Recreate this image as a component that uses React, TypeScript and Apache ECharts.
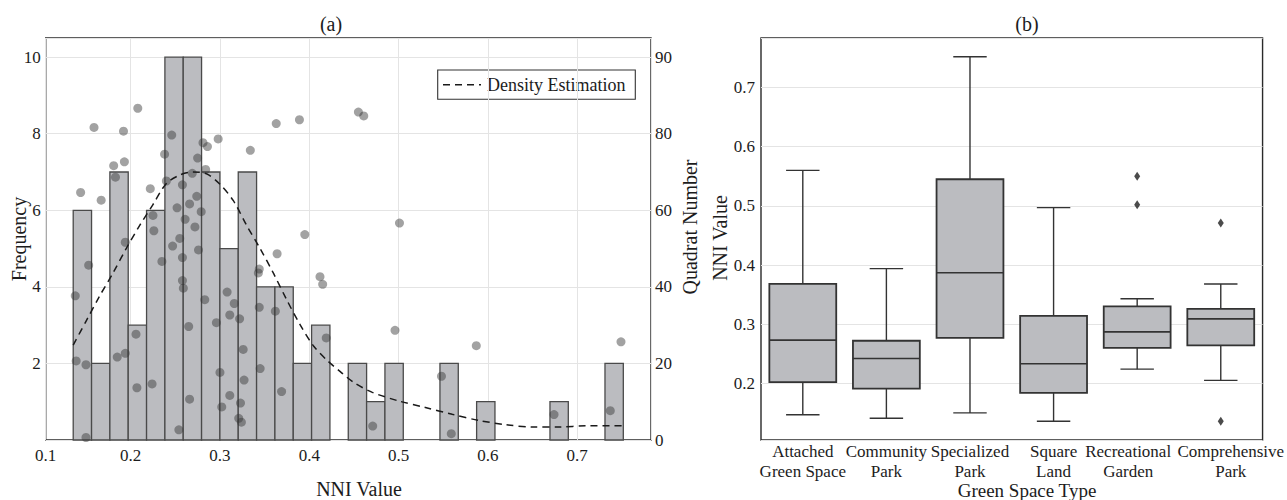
import React, { useEffect, useRef } from 'react';
import * as echarts from 'echarts';

// ---------- Panel (a): histogram of NNI values ----------
const histRange = [0.1357, 0.7516];
const histCounts = [6, 2, 7, 3, 6, 10, 10, 7, 5, 7, 4, 4, 2, 3, 0, 2, 1, 2, 0, 0, 2, 0, 1, 0, 0, 0, 1, 0, 0, 2];

// density estimation curve (frequency units)
const kdeX = [0.1357, 0.15, 0.165, 0.18, 0.195, 0.21, 0.225, 0.24, 0.255, 0.27, 0.285, 0.3, 0.315, 0.33, 0.345, 0.36, 0.375, 0.39, 0.405, 0.42, 0.435, 0.45, 0.47, 0.5, 0.53, 0.56, 0.59, 0.62, 0.65, 0.68, 0.71, 0.7516];
const kdeY = [2.48, 3.1, 3.75, 4.35, 5.0, 5.6, 6.15, 6.7, 6.92, 7.0, 6.95, 6.68, 6.25, 5.6, 5.0, 4.35, 3.65, 3.0, 2.45, 2.08, 1.78, 1.5, 1.25, 1.02, 0.85, 0.67, 0.51, 0.4, 0.34, 0.34, 0.37, 0.37];

// NNI value of each quadrat, indexed by quadrat number 0..86
const quadratNNI = [
  0.150, 0.559, 0.254, 0.471, 0.324, 0.321, 0.674, 0.737, 0.302, 0.323,
  0.266, 0.311, 0.369, 0.207, 0.224, 0.327, 0.548, 0.300, 0.345, 0.150,
  0.139, 0.185, 0.194, 0.326, 0.587, 0.749, 0.419, 0.206, 0.496, 0.265,
  0.296, 0.322, 0.311, 0.362, 0.344, 0.316, 0.283, 0.138, 0.308, 0.259,
  0.415, 0.258, 0.412, 0.343, 0.344, 0.153, 0.235, 0.258, 0.364, 0.276,
  0.247, 0.194, 0.255, 0.395, 0.226, 0.272, 0.501, 0.261, 0.225, 0.279,
  0.252, 0.266, 0.167, 0.274, 0.144, 0.222, 0.258, 0.240, 0.183, 0.269,
  0.284, 0.181, 0.193, 0.275, 0.238, 0.334, 0.286, 0.281, 0.298, 0.246,
  0.192, 0.159, 0.363, 0.389, 0.461, 0.455, 0.208
];

const freqRange = [0, 10.5];
const quadratTickLabels = ['0', '20', '40', '60', '80', '90'];

// ---------- Panel (b): box plot by green space type ----------
const boxCategories = [
  'Attached\nGreen Space',
  'Community\nPark',
  'Specialized\nPark',
  'Square\nLand',
  'Recreational\nGarden',
  'Comprehensive\nPark'
];
const boxLow = [0.147, 0.141, 0.150, 0.136, 0.224, 0.205];
const boxQ1 = [0.202, 0.191, 0.277, 0.184, 0.260, 0.264];
const boxMedian = [0.273, 0.242, 0.387, 0.233, 0.287, 0.309];
const boxQ3 = [0.368, 0.272, 0.545, 0.314, 0.330, 0.326];
const boxHigh = [0.560, 0.394, 0.752, 0.497, 0.343, 0.368];
const outlierCat = [4, 4, 5, 5];
const outlierVal = [0.550, 0.502, 0.471, 0.136];

const FONT = "'Liberation Serif', 'Times New Roman', Times, serif";
const TXT = '#1c1c1c';
const GRIDLINE = '#e4e4e4';
const FRAME = '#2a2a2a';
const BARFILL = '#bbbcc0';

export default function App() {
  const ref = useRef<HTMLDivElement>(null);

  useEffect(() => {
    const chart = echarts.init(ref.current as HTMLDivElement, null, { renderer: 'svg' });

    const binW = (histRange[1] - histRange[0]) / histCounts.length;
    const histData = histCounts.map((c, i) => [histRange[0] + i * binW, histRange[0] + (i + 1) * binW, c]);
    const kdeData = kdeX.map((x, i) => [x, kdeY[i]]);
    const scatterData = quadratNNI.map((v, i) => [v, i]);
    const boxData = boxCategories.map((_, i) => [i, boxLow[i], boxQ1[i], boxMedian[i], boxQ3[i], boxHigh[i]]);
    const outlierData = outlierCat.map((c, i) => [c, outlierVal[i]]);

    const tickLabel = {
      fontFamily: FONT,
      fontSize: 17,
      color: TXT
    };

    const option: any = {
      animation: false,
      backgroundColor: '#ffffff',
      textStyle: { fontFamily: FONT },
      grid: [
        { left: 45.7, top: 38, width: 605.3, height: 402, show: true, borderColor: FRAME, borderWidth: 1.4, backgroundColor: 'transparent' },
        { left: 761, top: 38, width: 503, height: 402, show: true, borderColor: FRAME, borderWidth: 1.4, backgroundColor: 'transparent' }
      ],
      xAxis: [
        {
          gridIndex: 0,
          type: 'value',
          min: 0.1049,
          max: 0.7826,
          minInterval: 0.1,
          maxInterval: 0.1,
          axisLine: { show: false },
          axisTick: { show: false },
          axisLabel: { ...tickLabel, margin: 7, showMinLabel: true, showMaxLabel: false, formatter: (v: number) => v.toFixed(1) },
          splitLine: { show: true, lineStyle: { color: GRIDLINE, width: 1 } }
        },
        {
          gridIndex: 1,
          type: 'category',
          data: boxCategories.map((c, i) =>
            i === 4
              ? { value: c, textStyle: { padding: [0, 18, 0, 0] } }
              : i === 5
              ? { value: c, textStyle: { padding: [0, 0, 0, 20] } }
              : c
          ),
          axisLine: { show: false },
          axisTick: { show: false },
          axisLabel: { ...tickLabel, lineHeight: 20, margin: 1, interval: 0 },
          splitLine: { show: false }
        }
      ],
      yAxis: [
        {
          gridIndex: 0,
          type: 'value',
          min: freqRange[0],
          max: freqRange[1],
          interval: 2,
          axisLine: { show: false },
          axisTick: { show: false },
          axisLabel: { ...tickLabel, margin: 5, showMinLabel: false, showMaxLabel: false },
          splitLine: { show: true, lineStyle: { color: GRIDLINE, width: 1 } }
        },
        {
          gridIndex: 0,
          type: 'value',
          position: 'right',
          min: 0,
          max: 105,
          interval: 20,
          axisLine: { show: false },
          axisTick: { show: false },
          axisLabel: {
            ...tickLabel,
            margin: 4,
            showMaxLabel: false,
            formatter: (v: number) => {
              const k = Math.round(v / 20);
              return Math.abs(v - k * 20) < 1e-6 && quadratTickLabels[k] !== undefined ? quadratTickLabels[k] : '';
            }
          },
          splitLine: { show: false }
        },
        {
          gridIndex: 0,
          type: 'value',
          position: 'right',
          min: -0.65,
          max: 104.35,
          show: false
        },
        {
          gridIndex: 1,
          type: 'value',
          min: 0.1042,
          max: 0.7838,
          minInterval: 0.1,
          maxInterval: 0.1,
          axisLine: { show: false },
          axisTick: { show: false },
          axisLabel: { ...tickLabel, margin: 6, showMinLabel: false, showMaxLabel: false, formatter: (v: number) => v.toFixed(1) },
          splitLine: { show: true, lineStyle: { color: GRIDLINE, width: 1 } }
        }
      ],
      series: [
        {
          type: 'custom',
          name: 'Histogram',
          xAxisIndex: 0,
          yAxisIndex: 0,
          z: 2,
          data: histData,
          encode: { x: [0, 1], y: 2 },
          renderItem: (params: any, api: any) => {
            const c = api.value(2);
            if (!c) return null;
            const p0 = api.coord([api.value(0), 0]);
            const p1 = api.coord([api.value(1), c]);
            return {
              type: 'rect',
              shape: { x: p0[0], y: p1[1], width: p1[0] - p0[0], height: p0[1] - p1[1] },
              style: { fill: BARFILL, stroke: '#4a4a4a', lineWidth: 1.3 }
            };
          }
        },
        {
          type: 'scatter',
          name: 'Quadrat',
          xAxisIndex: 0,
          yAxisIndex: 2,
          z: 3,
          data: scatterData,
          symbol: 'circle',
          symbolSize: 9,
          itemStyle: { color: 'rgba(53,53,53,0.58)' }
        },
        {
          type: 'line',
          name: 'Density Estimation',
          xAxisIndex: 0,
          yAxisIndex: 0,
          z: 4,
          data: kdeData,
          symbol: 'none',
          smooth: 0.3,
          lineStyle: { color: '#1a1a1a', width: 1.5, type: [7, 5] }
        },
        {
          type: 'custom',
          name: 'Box',
          xAxisIndex: 1,
          yAxisIndex: 3,
          z: 2,
          data: boxData,
          encode: { x: 0, y: [1, 2, 3, 4, 5] },
          renderItem: (params: any, api: any) => {
            const idx = api.value(0);
            const band = api.size([1, 0])[0];
            const x = api.coord([idx, api.value(3)])[0];
            const yy = (v: number) => api.coord([idx, v])[1];
            const lo = yy(api.value(1));
            const q1 = yy(api.value(2));
            const md = yy(api.value(3));
            const q3 = yy(api.value(4));
            const hi = yy(api.value(5));
            const bw = band * 0.8;
            const cw = band * 0.4;
            const ls = { stroke: '#333333', lineWidth: 1.4 };
            return {
              type: 'group',
              children: [
                { type: 'line', shape: { x1: x, y1: q3, x2: x, y2: hi }, style: ls },
                { type: 'line', shape: { x1: x, y1: q1, x2: x, y2: lo }, style: ls },
                { type: 'line', shape: { x1: x - cw / 2, y1: hi, x2: x + cw / 2, y2: hi }, style: ls },
                { type: 'line', shape: { x1: x - cw / 2, y1: lo, x2: x + cw / 2, y2: lo }, style: ls },
                { type: 'rect', shape: { x: x - bw / 2, y: q3, width: bw, height: q1 - q3 }, style: { fill: BARFILL, stroke: '#333333', lineWidth: 1.8 } },
                { type: 'line', shape: { x1: x - bw / 2, y1: md, x2: x + bw / 2, y2: md }, style: { stroke: '#333333', lineWidth: 1.6 } }
              ]
            };
          }
        },
        {
          type: 'scatter',
          name: 'Outliers',
          xAxisIndex: 1,
          yAxisIndex: 3,
          z: 3,
          data: outlierData,
          symbol: 'diamond',
          symbolSize: [6, 9],
          itemStyle: { color: '#1e1e1e' }
        }
      ],
      graphic: [
        { type: 'text', x: 331, y: 24, z: 100, style: { text: '(a)', font: `20px ${FONT}`, fill: TXT, align: 'center', verticalAlign: 'middle' } },
        { type: 'text', x: 1027, y: 24, z: 100, style: { text: '(b)', font: `20px ${FONT}`, fill: TXT, align: 'center', verticalAlign: 'middle' } },
        { type: 'text', x: 19, y: 239, rotation: Math.PI / 2, z: 100, style: { text: 'Frequency', font: `20px ${FONT}`, fill: TXT, align: 'center', verticalAlign: 'middle' } },
        { type: 'text', x: 359, y: 489, z: 100, style: { text: 'NNI Value', font: `20px ${FONT}`, fill: TXT, align: 'center', verticalAlign: 'middle' } },
        { type: 'text', x: 690, y: 227, rotation: Math.PI / 2, z: 100, style: { text: 'Quadrat Number', font: `20px ${FONT}`, fill: TXT, align: 'center', verticalAlign: 'middle' } },
        { type: 'text', x: 720, y: 238, rotation: Math.PI / 2, z: 100, style: { text: 'NNI Value', font: `20px ${FONT}`, fill: TXT, align: 'center', verticalAlign: 'middle' } },
        { type: 'text', x: 1027, y: 490.5, z: 100, style: { text: 'Green Space Type', font: `19px ${FONT}`, fill: TXT, align: 'center', verticalAlign: 'middle' } },
        {
          type: 'group',
          z: 100,
          children: [
            { type: 'rect', shape: { x: 437.7, y: 70, width: 197.6, height: 29.3 }, style: { fill: '#ffffff', stroke: '#333333', lineWidth: 1.1 } },
            { type: 'line', shape: { x1: 443, y1: 84.7, x2: 481, y2: 84.7 }, style: { stroke: '#1a1a1a', lineWidth: 1.5, lineDash: [7, 5] } },
            { type: 'text', x: 487, y: 84.7, style: { text: 'Density Estimation', font: `18px ${FONT}`, fill: TXT, align: 'left', verticalAlign: 'middle' } }
          ]
        }
      ]
    };

    chart.setOption(option);
    return () => chart.dispose();
  }, []);

  return (
    <div
      ref={ref}
      style={{ position: 'fixed', left: 0, top: 0, width: 1287, height: 500, background: '#ffffff' }}
    />
  );
}
